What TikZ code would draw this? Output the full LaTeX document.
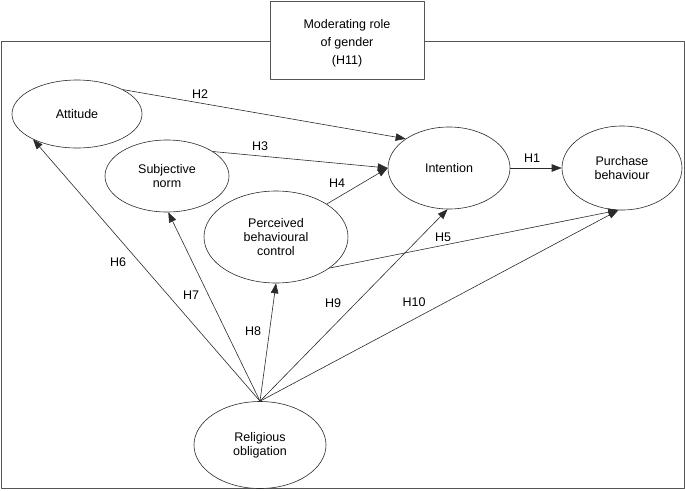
\documentclass[tikz,border=0pt]{standalone}
\usepackage{fontspec}
\setmainfont{Liberation Sans}
\usetikzlibrary{arrows.meta, shapes}
\definecolor{framegray}{HTML}{555555}
\definecolor{linegray}{HTML}{2B2B2B}

\begin{document}
\begin{tikzpicture}[x=1pt, y=-1pt, line cap=round, line join=round,
    constructo/.style={ellipse, draw=linegray, line width=0.6pt, fill=white, inner sep=0pt, align=center, font=\fontsize{12.5}{14}\selectfont},
    hipotesis/.style={-{Triangle[length=10pt, width=7.5pt]}, line width=0.6pt, linegray},
    etiqueta/.style={font=\fontsize{12.5}{14}\selectfont, inner sep=0pt}]
      \useasboundingbox (0,0) rectangle (685,490);

      % Marco exterior
      \draw[line width=1pt, framegray] (1,41) rectangle (684,488);

      % Moderador
      \node[draw=framegray, line width=1pt, fill=white, minimum width=154pt, minimum height=78pt, align=center, font=\fontsize{12.5}{18}\selectfont] (genero) at (347,40) {\rule{0pt}{16pt}Moderating role\\of gender\\(H11)};

      % Constructos
      \node[constructo, minimum width=130pt, minimum height=68pt] (actitud) at (77,114) {Attitude};
      \node[constructo, minimum width=124pt, minimum height=72pt] (norma) at (167,176) {Subjective\\norm};
      \node[constructo, minimum width=144pt, minimum height=92pt] (control) at (276,237) {Perceived\\behavioural\\control};
      \node[constructo, minimum width=122pt, minimum height=82pt] (intencion) at (449,168) {Intention};
      \node[constructo, minimum width=120pt, minimum height=84pt] (compra) at (622,168) {Purchase\\behaviour};
      \node[constructo, minimum width=132pt, minimum height=87pt] (religion) at (260,445) {Religious\\obligation};

      % Hipótesis hacia la intención y la compra
      \draw[hipotesis] (actitud.28) -- (intencion.146);
      \draw[hipotesis] (norma.28) -- (intencion.west);
      \draw[hipotesis] (control.33) -- (intencion.west);
      \draw[hipotesis] (intencion.east) -- (compra.west);
      \draw[hipotesis] (control.330) -- (compra.265);

      % Hipótesis desde la obligación religiosa
      \draw[hipotesis] (religion.north) -- (actitud.210);
      \draw[hipotesis] (religion.north) -- (norma.272);
      \draw[hipotesis] (religion.north) -- (control.270);
      \draw[hipotesis] (religion.north) -- (intencion.268);
      \draw[hipotesis] (religion.north) -- (compra.265);

      % Etiquetas
      \node[etiqueta] (h1) at (532,158) {H1};
      \node[etiqueta] (h2) at (200,94) {H2};
      \node[etiqueta] (h3) at (260,146) {H3};
      \node[etiqueta] (h4) at (337,183) {H4};
      \node[etiqueta] (h5) at (443,237) {H5};
      \node[etiqueta] (h6) at (118,262) {H6};
      \node[etiqueta] (h7) at (191,295) {H7};
      \node[etiqueta] (h8) at (253,331) {H8};
      \node[etiqueta] (h9) at (333,303) {H9};
      \node[etiqueta] (h10) at (414,302) {H10};
    \end{tikzpicture}
\end{document}
